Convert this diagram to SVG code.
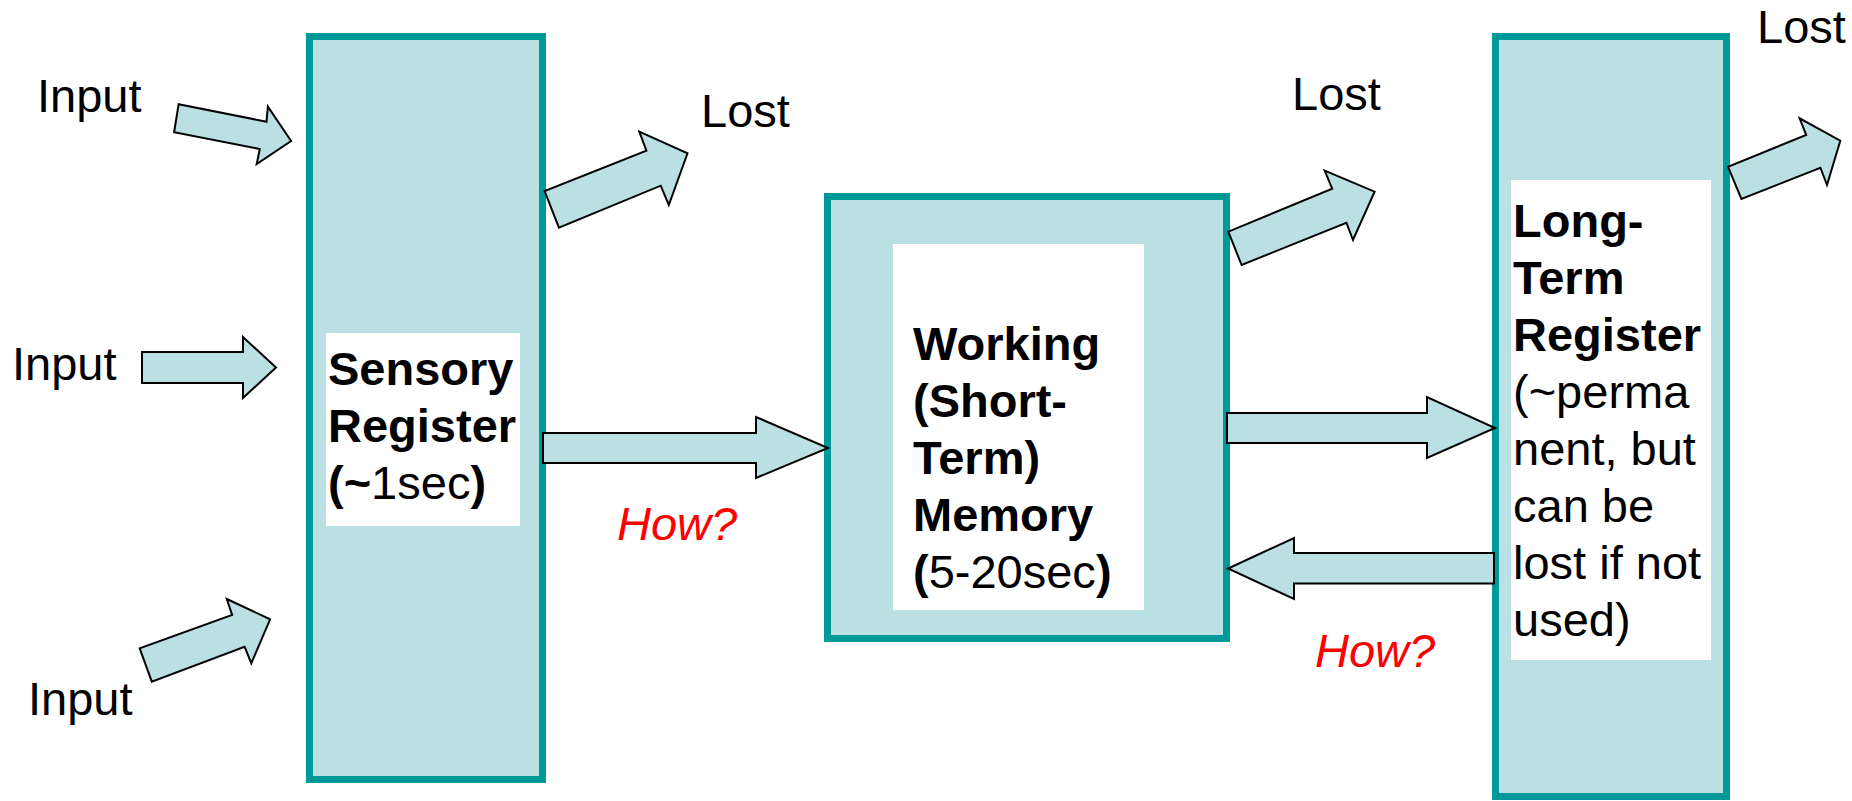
<svg xmlns="http://www.w3.org/2000/svg" width="1852" height="801" viewBox="0 0 1852 801">
  <style>
    .box { fill: #BBE0E3; stroke: #009999; stroke-width: 7; }
    .label-bg { fill: #FFFFFF; }
    .arrow { fill: #BBE0E3; stroke: #000000; stroke-width: 2; stroke-linejoin: miter; }
    text { font-family: "Liberation Sans", Arial, sans-serif; font-size: 47px; fill: #000000; }
    .b { font-weight: bold; }
    .how { fill: #FF0000; font-style: italic; }
  </style>

  <rect width="1852" height="801" fill="#FFFFFF"/>

  <!-- Sensory register -->
  <g id="sensory-register">
    <rect class="box" x="309.5" y="36.5" width="233" height="743"/>
    <rect class="label-bg" x="326" y="333" width="194" height="193"/>
    <text x="328" y="385" class="b">Sensory</text>
    <text x="328" y="442" class="b">Register</text>
    <text x="328" y="499"><tspan class="b">(~</tspan>1sec<tspan class="b">)</tspan></text>
  </g>

  <!-- Working (short-term) memory -->
  <g id="working-memory">
    <rect class="box" x="827.5" y="196.5" width="399" height="442"/>
    <rect class="label-bg" x="893" y="244" width="251" height="366"/>
    <text x="913" y="360" class="b">Working</text>
    <text x="913" y="417" class="b">(Short-</text>
    <text x="913" y="474" class="b">Term)</text>
    <text x="913" y="531" class="b">Memory</text>
    <text x="913" y="588"><tspan class="b">(</tspan>5-20sec<tspan class="b">)</tspan></text>
  </g>

  <!-- Long-term register -->
  <g id="long-term-register">
    <rect class="box" x="1495.5" y="36.5" width="231" height="760"/>
    <rect class="label-bg" x="1511" y="180" width="200" height="480"/>
    <text x="1513" y="237" class="b">Long-</text>
    <text x="1513" y="294" class="b">Term</text>
    <text x="1513" y="351" class="b">Register</text>
    <text x="1513" y="408">(~perma</text>
    <text x="1513" y="465">nent, but</text>
    <text x="1513" y="522">can be</text>
    <text x="1513" y="579">lost if not</text>
    <text x="1513" y="636">used)</text>
  </g>

  <!-- Free labels -->
  <g id="labels">
    <text x="37" y="112">Input</text>
    <text x="12" y="380">Input</text>
    <text x="28" y="715">Input</text>
    <text x="701" y="127">Lost</text>
    <text x="1292" y="110">Lost</text>
    <text x="1757" y="43">Lost</text>
    <text x="617" y="540" class="how">How?</text>
    <text x="1315" y="667" class="how">How?</text>
  </g>

  <!-- Block arrows -->
  <g id="connectors">
    <!-- inputs into the sensory register -->
    <polygon class="arrow" points="178.6,104.3 174.1,132.3 259.8,149 256.7,164 291.1,141 267.9,106.7 266.5,121.7"/>
    <polygon class="arrow" points="142,352 243,352 243,337 276,367.5 243,398 243,383 142,383"/>
    <polygon class="arrow" points="139.7,648.3 151.8,681.7 244.6,646.7 251.3,663.3 270.1,619.3 226.8,599 232.1,615"/>
    <!-- losses -->
    <polygon class="arrow" points="544.6,191 558.9,227.7 660.7,185.7 668.8,205 687.5,153.3 639.3,131.7 646.4,150.7"/>
    <polygon class="arrow" points="1228.3,231.7 1241.6,265 1346.4,222.7 1353,240 1374.6,191.7 1324.7,170.7 1332.2,188.7"/>
    <polygon class="arrow" points="1728,166.7 1741.4,199 1820.4,167.7 1827,185 1840.3,140.7 1799.6,118.3 1806.2,135"/>
    <!-- sensory to working -->
    <polygon class="arrow" points="543,433 756,433 756,417 828,448 756,478 756,463 543,463"/>
    <!-- working to long-term -->
    <polygon class="arrow" points="1227,413 1427,413 1427,397 1495,428 1427,458 1427,443 1227,443"/>
    <!-- long-term back to working -->
    <polygon class="arrow" points="1494,553 1294,553 1294,538 1228,568.5 1294,599 1294,583.5 1494,583.5"/>
  </g>
</svg>
